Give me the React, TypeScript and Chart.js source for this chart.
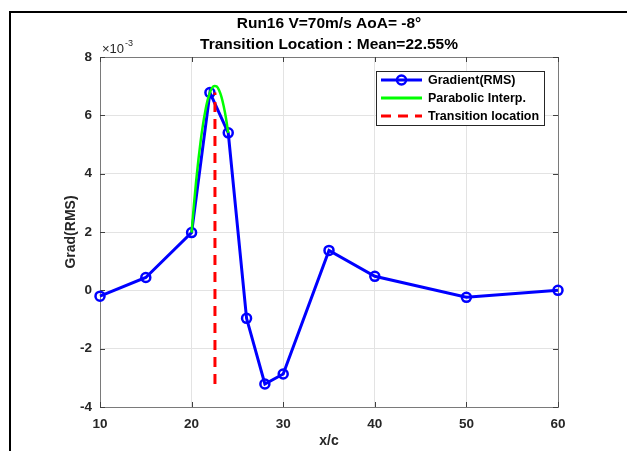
import React, { useEffect, useRef } from "react";
import { Chart, registerables } from "chart.js";

Chart.register(...registerables);

// Values in units of 1e-3 (axis shows ×10^-3 multiplier)
const xPositions = [10, 15, 20, 22, 24, 26, 28, 30, 35, 40, 50, 60];
const gradRms = [-0.2, 0.44, 1.98, 6.78, 5.4, -0.96, -3.21, -2.87, 1.37, 0.48, -0.24, 0.0];

const parabX = [20, 20.25, 20.5, 20.75, 21, 21.25, 21.5, 21.75, 22, 22.25, 22.5, 22.75, 23, 23.25, 23.5, 23.75, 24];
const parabY = [1.98, 2.92, 3.76, 4.5, 5.15, 5.7, 6.16, 6.52, 6.78, 6.95, 7.01, 6.99, 6.86, 6.64, 6.32, 5.91, 5.4];

const transX = [22.55, 22.55];
const transY = [-3.21, 6.78];

const xTicks = [10, 20, 30, 40, 50, 60];
const yTicks = [-4, -2, 0, 2, 4, 6, 8];

const titleLines = ["Run16 V=70m/s AoA= -8°", "Transition Location : Mean=22.55%"];
const legendLabels = ["Gradient(RMS)", "Parabolic Interp.", "Transition location"];
const xLabel = "x/c";
const yLabel = "Grad(RMS)";

const FONT = '"Liberation Sans", Arial, Helvetica, sans-serif';

const decorPlugin = {
  id: "decor",
  beforeDatasetsDraw(chart: any) {
    const ctx = chart.ctx;
    const a = chart.chartArea;
    const xs = chart.scales.x;
    const ys = chart.scales.y;
    ctx.save();
    ctx.strokeStyle = "#7a7a7a";
    ctx.lineWidth = 1;
    ctx.beginPath();
    ctx.moveTo(a.left, a.top + 0.5);
    ctx.lineTo(a.right + 0.5, a.top + 0.5);
    ctx.lineTo(a.right + 0.5, a.bottom);
    ctx.stroke();
    // inward ticks
    ctx.strokeStyle = "#404040";
    ctx.beginPath();
    xTicks.forEach((t) => {
      const px = Math.round(xs.getPixelForValue(t)) + 0.5;
      ctx.moveTo(px, a.bottom);
      ctx.lineTo(px, a.bottom - 5);
      ctx.moveTo(px, a.top);
      ctx.lineTo(px, a.top + 5);
    });
    yTicks.forEach((t) => {
      const py = Math.round(ys.getPixelForValue(t)) + 0.5;
      ctx.moveTo(a.left, py);
      ctx.lineTo(a.left + 5, py);
      ctx.moveTo(a.right, py);
      ctx.lineTo(a.right - 5, py);
    });
    ctx.stroke();
    ctx.restore();
  },
  afterDraw(chart: any) {
    const ctx = chart.ctx;
    const a = chart.chartArea;
    const cx = (a.left + a.right) / 2;
    ctx.save();
    // document border lines
    ctx.fillStyle = "#000";
    ctx.fillRect(9, 11, 2, 440);
    ctx.fillRect(9, 11, 618, 2);

    // titles
    ctx.fillStyle = "#000";
    ctx.textAlign = "center";
    ctx.textBaseline = "middle";
    ctx.font = `bold 15.5px ${FONT}`;
    ctx.fillText(titleLines[0], cx, 24);
    ctx.fillText(titleLines[1], cx, 45);

    // multiplier
    ctx.fillStyle = "#262626";
    ctx.textAlign = "left";
    ctx.textBaseline = "alphabetic";
    ctx.font = `13px ${FONT}`;
    ctx.fillText("×10", a.left + 2, a.top - 4);
    const w = ctx.measureText("×10").width;
    ctx.font = `9px ${FONT}`;
    ctx.fillText("-3", a.left + 2 + w + 1, a.top - 11);

    // axis titles
    ctx.fillStyle = "#262626";
    ctx.font = `bold 14px ${FONT}`;
    ctx.textAlign = "center";
    ctx.textBaseline = "middle";
    ctx.fillText(xLabel, cx, 441);
    ctx.save();
    ctx.translate(71, (a.top + a.bottom) / 2);
    ctx.rotate(-Math.PI / 2);
    ctx.fillText(yLabel, 0, 0);
    ctx.restore();

    // legend
    const lx = 376.5, ly = 71.5, lw = 168, lh = 54;
    ctx.fillStyle = "#fff";
    ctx.fillRect(lx, ly, lw, lh);
    ctx.strokeStyle = "#262626";
    ctx.lineWidth = 1;
    ctx.strokeRect(lx, ly, lw, lh);
    const rows = [80, 98, 116];
    const colors = ["#0000ff", "#00ff00", "#ff0000"];
    rows.forEach((ry, i) => {
      ctx.strokeStyle = colors[i];
      ctx.lineWidth = 3;
      ctx.setLineDash(i === 2 ? [10, 7] : []);
      ctx.beginPath();
      ctx.moveTo(381, ry);
      ctx.lineTo(422, ry);
      ctx.stroke();
      ctx.setLineDash([]);
      if (i === 0) {
        ctx.lineWidth = 2.5;
        ctx.beginPath();
        ctx.arc(401.5, ry, 4.5, 0, Math.PI * 2);
        ctx.stroke();
      }
      ctx.fillStyle = "#000";
      ctx.font = `bold 12.5px ${FONT}`;
      ctx.textAlign = "left";
      ctx.textBaseline = "middle";
      ctx.fillText(legendLabels[i], 428, ry + 0.5);
    });
    ctx.restore();
  },
};

export default function App() {
  const canvasRef = useRef<HTMLCanvasElement | null>(null);

  useEffect(() => {
    const canvas = canvasRef.current;
    if (!canvas) return;
    Chart.defaults.font.family = FONT;
    const chart = new Chart(canvas, {
      type: "line",
      data: {
        datasets: [
          {
            label: legendLabels[0],
            data: xPositions.map((x, i) => ({ x, y: gradRms[i] })),
            borderColor: "#0000ff",
            backgroundColor: "rgba(0,0,0,0)",
            borderWidth: 3,
            pointRadius: 4.5,
            pointBorderWidth: 2.5,
            pointBorderColor: "#0000ff",
            pointBackgroundColor: "rgba(0,0,0,0)",
            pointStyle: "circle",
            tension: 0,
            clip: false as any,
            order: 3,
          },
          {
            label: legendLabels[1],
            data: parabX.map((x, i) => ({ x, y: parabY[i] })),
            borderColor: "#00ff00",
            borderWidth: 2.5,
            pointRadius: 0,
            tension: 0.4,
            cubicInterpolationMode: "monotone",
            order: 2,
          },
          {
            label: legendLabels[2],
            data: transX.map((x, i) => ({ x, y: transY[i] })),
            borderColor: "#ff0000",
            borderWidth: 3,
            borderDash: [10, 7],
            borderCapStyle: "butt",
            pointRadius: 0,
            order: 1,
          },
        ],
      },
      options: {
        responsive: false,
        animation: false,
        devicePixelRatio: 1,
        layout: { padding: { left: 0, right: 69, top: 57, bottom: 0 } },
        plugins: {
          legend: { display: false },
          title: { display: false },
          tooltip: { enabled: false },
        },
        scales: {
          x: {
            type: "linear",
            min: 10,
            max: 60,
            afterBuildTicks: (s: any) => {
              s.ticks = xTicks.map((v) => ({ value: v }));
            },
            afterFit: (s: any) => {
              s.height = 44;
            },
            ticks: {
              padding: 9,
              color: "#262626",
              font: { family: FONT, size: 13.5, weight: "bold" },
              maxRotation: 0,
            },
            grid: { color: "#e3e3e3", drawTicks: false, lineWidth: 1 },
            border: { display: true, color: "#7a7a7a", width: 1 },
          },
          y: {
            type: "linear",
            min: -4,
            max: 8,
            afterBuildTicks: (s: any) => {
              s.ticks = yTicks.map((v) => ({ value: v }));
            },
            afterFit: (s: any) => {
              s.width = 100;
            },
            ticks: {
              padding: 8,
              color: "#262626",
              font: { family: FONT, size: 13.5, weight: "bold" },
            },
            grid: { color: "#e3e3e3", drawTicks: false, lineWidth: 1 },
            border: { display: true, color: "#7a7a7a", width: 1 },
          },
        },
      },
      plugins: [decorPlugin],
    } as any);
    return () => chart.destroy();
  }, []);

  return (
    <div style={{ position: "absolute", left: 0, top: 0, width: 627, height: 451, background: "#fff" }}>
      <canvas ref={canvasRef} width={627} height={451} style={{ width: 627, height: 451, display: "block" }} />
    </div>
  );
}
